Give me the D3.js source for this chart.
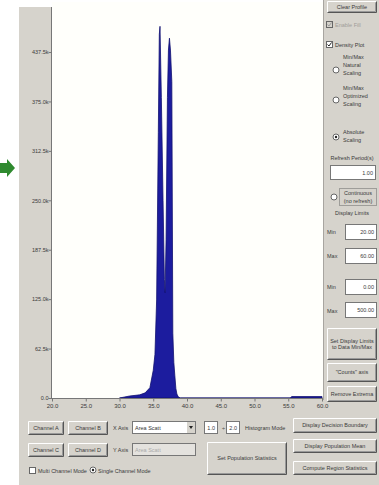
<!DOCTYPE html>
<html><head><meta charset="utf-8">
<script src="https://cdn.jsdelivr.net/npm/d3@7"></script>
<style>body{margin:0;background:#fff}svg{display:block}text{font-family:"Liberation Sans",Arial,sans-serif}</style>
</head><body>
<svg id="c" width="379" height="485"></svg>
<script>
// ---- data ----
const channels = [30.0, 31.5, 33.0, 33.8, 34.5, 35.0, 35.25, 35.5, 35.75, 35.9, 36.0, 36.2, 36.45, 36.65, 36.75, 36.9, 37.1, 37.25, 37.4, 37.55, 37.75, 37.9, 38.05, 38.2, 38.35, 38.5, 38.7, 39.0, 55.3, 55.5, 60.0];
const counts   = [0, 2500, 4000, 6500, 13000, 35000, 55000, 124000, 336000, 460000, 470000, 380000, 250000, 150000, 133000, 200000, 380000, 440000, 455000, 440000, 400000, 82000, 45000, 28000, 12000, 5000, 1500, 0, 0, 1800, 1800];
const xTicks = [20, 25, 30, 35, 40, 45, 50, 55, 60];
const xTickLabels = ["20.0","25.0","30.0","35.0","40.0","45.0","50.0","55.0","60.0"];
const yTicks = [0, 62500, 125000, 187500, 250000, 312500, 375000, 437500];
const yTickLabels = ["0.0","62.5k","125.0k","187.5k","250.0k","312.5k","375.0k","437.5k"];
const xDomain = [20, 60];
const yDomain = [0, 500000];

const svg = d3.select("#c");
const GRAY = "#d6d3cc";
const TXT = "#3a3a3a";

// backgrounds
svg.append("rect").attr("x",0).attr("y",0).attr("width",379).attr("height",485).attr("fill","#fff");
svg.append("rect").attr("x",19).attr("y",7).attr("width",33).attr("height",478).attr("fill",GRAY);
svg.append("rect").attr("x",19).attr("y",398).attr("width",360).attr("height",87).attr("fill",GRAY);
svg.append("rect").attr("x",323).attr("y",0).attr("width",56).attr("height",400).attr("fill",GRAY);
svg.append("line").attr("x1",323.5).attr("x2",323.5).attr("y1",0).attr("y2",400).attr("stroke","#a8a5a0");

const x = d3.scaleLinear().domain(xDomain).range([52, 322]);
const y = d3.scaleLinear().domain(yDomain).range([398, 2.6]);

// plot area
svg.append("rect").attr("x",52).attr("y",2).attr("width",271).attr("height",396).attr("fill","#fffffb");

// histogram
const pts = channels.map((c,i)=>[c,counts[i]]);
const area = d3.area().x(d=>x(d[0])).y0(y(0)).y1(d=>y(d[1]));
svg.append("path").datum(pts).attr("d",area).attr("fill","#1c1c9e").attr("stroke","#121270").attr("stroke-width",0.8);

// axes
const yAxis = d3.axisLeft(y).tickValues(yTicks).tickSize(3).tickFormat((d,i)=>yTickLabels[i]);
const gy = svg.append("g").attr("transform","translate(51.5,0)").call(yAxis);
gy.select(".domain").attr("stroke","#777").attr("d","M0,7V398");
gy.selectAll(".tick line").attr("stroke","#777");
gy.selectAll(".tick text").attr("font-size",5.5).attr("fill",TXT).attr("x",-3);

const xAxis = d3.axisBottom(x).tickValues(xTicks).tickSize(3).tickFormat((d,i)=>xTickLabels[i]);
const gx = svg.append("g").attr("transform","translate(0,398.5)").call(xAxis);
gx.select(".domain").attr("stroke","#777").attr("d","M51,0H323");
gx.selectAll(".tick line").attr("stroke","#777");
gx.selectAll(".tick text").attr("font-size",6).attr("fill",TXT).attr("y",5);

// green arrow
svg.append("path").attr("d","M0,163 L7,163 L7,159 L15,168 L7,177 L7,173 L0,173 Z").attr("fill","#2f8a2f");

// ---- UI helpers ----
function button(x0,y0,w,h,lines,fs){
  const g=svg.append("g");
  g.append("rect").attr("x",x0).attr("y",y0).attr("width",w).attr("height",h).attr("fill",GRAY);
  g.append("path").attr("d",`M${x0+0.5},${y0+h-0.5}V${y0+0.5}H${x0+w-0.5}`).attr("fill","none").attr("stroke","#fff");
  g.append("path").attr("d",`M${x0+0.5},${y0+h-0.5}H${x0+w-0.5}V${y0+0.5}`).attr("fill","none").attr("stroke","#555");
  g.append("path").attr("d",`M${x0+1.5},${y0+h-1.5}H${x0+w-1.5}V${y0+1.5}`).attr("fill","none").attr("stroke","#999");
  fs=fs||5.5;
  const n=lines.length;
  lines.forEach((t,i)=>{
    g.append("text").attr("x",x0+w/2).attr("y",y0+h/2+(i-(n-1)/2)*(fs+1)+fs*0.35)
      .attr("text-anchor","middle").attr("font-size",fs).attr("fill",TXT).text(t);
  });
}
function label(x0,y0,t,opts){
  opts=opts||{};
  svg.append("text").attr("x",x0).attr("y",y0).attr("font-size",opts.fs||5.5)
    .attr("text-anchor",opts.anchor||"start").attr("fill",opts.fill||TXT).text(t);
}
function input(x0,y0,w,h,t,disabled){
  svg.append("rect").attr("x",x0+0.5).attr("y",y0+0.5).attr("width",w-1).attr("height",h-1)
    .attr("fill",disabled?"#e4e2de":"#fff").attr("stroke","#777");
  if(t) svg.append("text").attr("x",x0+w-3).attr("y",y0+h/2+2).attr("text-anchor","end")
    .attr("font-size",5.5).attr("fill",disabled?"#999":TXT).text(t);
}
function check(x0,y0,checked,disabled){
  svg.append("rect").attr("x",x0+0.5).attr("y",y0+0.5).attr("width",6).attr("height",6)
    .attr("fill",disabled?GRAY:"#fff").attr("stroke","#666");
  if(checked) svg.append("path").attr("d",`M${x0+1.5},${y0+3.5}L${x0+3},${y0+5}L${x0+5.5},${y0+1.5}`)
    .attr("fill","none").attr("stroke",disabled?"#999":"#222").attr("stroke-width",1);
}
function radio(cx,cy,sel){
  svg.append("circle").attr("cx",cx).attr("cy",cy).attr("r",3).attr("fill","#fff").attr("stroke","#666");
  if(sel) svg.append("circle").attr("cx",cx).attr("cy",cy).attr("r",1.2).attr("fill","#222");
}

// ---- right panel ----
button(327,1,50,12,["Clear Profile"]);
check(326,21,true,true); label(335,27,"Enable Fill",{fill:"#a09d98"});
check(326,41,true,false); label(335,47,"Density Plot");
label(343,59,"Min/Max"); label(343,67,"Natural"); label(343,75,"Scaling"); radio(336,70,false);
label(343,90,"Min/Max"); label(343,98,"Optimized"); label(343,106,"Scaling"); radio(336,100,false);
label(343,134,"Absolute"); label(343,142,"Scaling"); radio(336,137,true);
label(352,160,"Refresh Period(s)",{anchor:"middle"});
input(330,165,46,15,"1.00");
radio(334,197,false);
svg.append("rect").attr("x",339.5).attr("y",188.5).attr("width",37).attr("height",17).attr("fill","none").attr("stroke","#666").attr("stroke-dasharray","1,1");
label(358,195,"Continuous",{anchor:"middle"}); label(358,203,"(no refresh)",{anchor:"middle"});
label(352,215,"Display Limits",{anchor:"middle"});
label(327,234,"Min"); input(345,224,32,16,"20.00");
label(327,258,"Max"); input(345,248,32,16,"60.00");
label(327,289,"Min"); input(345,279,32,16,"0.00");
label(327,313,"Max"); input(345,302,32,16,"500.00");
button(327,328,50,32,["Set Display Limits","to Data Min/Max"]);
button(327,363,50,19,["\"Counts\" axis"]);
button(327,386,50,16,["Remove Extrema"]);

// ---- bottom panel ----
button(28,421,36,14,["Channel A"]);
button(68,421,40,14,["Channel B"]);
label(113,430,"X Axis");
input(132,421,64,13,"");
label(135,430,"Area Scatt",{fill:"#333"});
svg.append("rect").attr("x",187).attr("y",422).attr("width",8).attr("height",11).attr("fill",GRAY);
svg.append("path").attr("d","M189,426L193,426L191,429Z").attr("fill","#222");
button(28,443,36,14,["Channel C"]);
button(68,443,40,14,["Channel D"]);
label(113,452,"Y Axis");
input(132,443,64,13,"",true);
label(135,452,"Area Scatt",{fill:"#aaa"});
input(204,421,14,13,"1.0");
label(222,430,"÷",{fill:"#333"});
input(226,421,14,13,"2.0");
label(245,430,"Histogram Mode");
button(293,418,84,15,["Display Decision Boundary"]);
button(207,442,80,33,["Set Population Statistics"]);
button(293,439,84,14,["Display Population Mean"]);
button(293,461,84,14,["Compute Region Statistics"]);
check(29,467,false,false); label(38,473,"Multi Channel Mode");
radio(93,470,true); label(98,473,"Single Channel Mode");
</script>
</body></html>
